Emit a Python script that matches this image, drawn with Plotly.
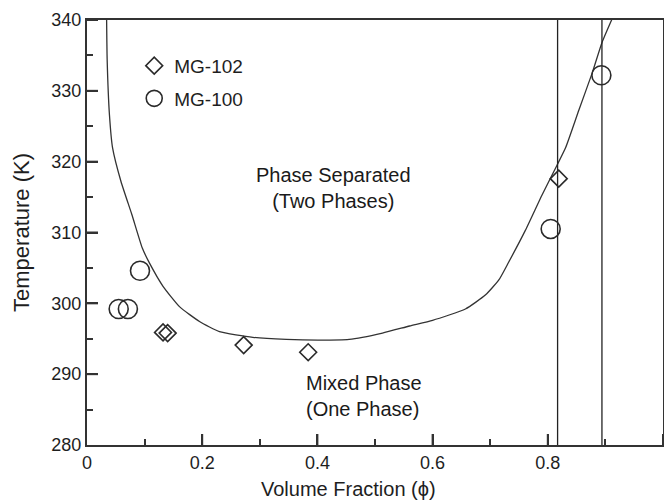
import plotly.graph_objects as go

# ---- data ----
mg102_x = [0.132, 0.140, 0.272, 0.384, 0.819]
mg102_y = [295.9, 295.8, 294.1, 293.1, 317.6]

mg100_x = [0.055, 0.071, 0.092, 0.805, 0.893]
mg100_y = [299.2, 299.2, 304.6, 310.5, 332.2]

curve_x = [0.034, 0.035, 0.039, 0.0445, 0.059, 0.078, 0.096, 0.109, 0.132, 0.161,
           0.196, 0.230, 0.288, 0.346, 0.403, 0.455, 0.513, 0.560, 0.600, 0.657, 0.692,
           0.715, 0.732, 0.761, 0.790, 0.816, 0.831, 0.854, 0.877, 0.894, 0.914]
curve_y = [340.5, 334.4, 326.6, 321.9, 317.2, 312.5, 307.8, 305.6, 302.4, 299.5,
           297.4, 296.0, 295.2, 294.9, 294.8, 294.9, 295.8, 296.8, 297.6, 299.2, 301.2,
           303.3, 305.8, 310.3, 315.3, 319.5, 322.0, 327.3, 332.5, 336.8, 340.6]

vlines = [0.817, 0.894]

x_major_ticks = [0, 0.2, 0.4, 0.6, 0.8, 1.0]
x_tick_labels = ["0", "0.2", "0.4", "0.6", "0.8", "1"]
y_major_ticks = [280, 290, 300, 310, 320, 330, 340]

X_RANGE = [0, 1]
Y_RANGE = [280, 340]
X_MINOR, Y_MINOR = 0.1, 5

FONT = "Liberation Sans, Arial, sans-serif"
INK = "#1e1e1e"
AX = "#333333"

fig = go.Figure()

fig.add_trace(go.Scatter(x=curve_x, y=curve_y, mode="lines",
                         line=dict(color="#333333", width=1.3, shape="spline", smoothing=0.5),
                         showlegend=False, hoverinfo="skip"))

for v in vlines:
    fig.add_trace(go.Scatter(x=[v, v], y=Y_RANGE, mode="lines",
                             line=dict(color="#222222", width=1.3),
                             showlegend=False, hoverinfo="skip"))

fig.add_trace(go.Scatter(x=mg102_x, y=mg102_y, mode="markers", name="MG-102",
                         legendgroup="a",
                         marker=dict(symbol="diamond-open", size=13, color="#2a2a2a",
                                     line=dict(width=1.6, color="#2a2a2a"))))
fig.add_trace(go.Scatter(x=mg100_x, y=mg100_y, mode="markers", name="MG-100",
                         legendgroup="b",
                         marker=dict(symbol="circle-open", size=19, color="#2a2a2a",
                                     line=dict(width=1.6, color="#2a2a2a"))))

fig.update_layout(
    xaxis=dict(range=X_RANGE, tickmode="array", tickvals=x_major_ticks, ticktext=x_tick_labels,
               showline=True, linewidth=2, linecolor=AX, mirror=True,
               ticks="inside", ticklen=11, tickwidth=2, tickcolor=AX,
               showgrid=False, zeroline=False,
               tickfont=dict(family=FONT, size=18, color=INK),
               minor=dict(ticks="inside", ticklen=6, tickwidth=2, tickcolor=AX,
                          tick0=0, dtick=X_MINOR, showgrid=False)),
    yaxis=dict(range=Y_RANGE, tickmode="array", tickvals=y_major_ticks,
               showline=True, linewidth=2, linecolor=AX, mirror=True,
               ticks="inside", ticklen=11, tickwidth=2, tickcolor=AX,
               showgrid=False, zeroline=False,
               tickfont=dict(family=FONT, size=18, color=INK),
               minor=dict(ticks="inside", ticklen=6, tickwidth=2, tickcolor=AX,
                          tick0=280, dtick=Y_MINOR, showgrid=False),
               title=dict(text="Temperature (K)", font=dict(family=FONT, size=22, color=INK),
                          standoff=16)),
)

# long tick marks at the major tick positions, anchored to the axes in pixel length
for v in x_major_ticks[1:]:
    fig.add_shape(type="line", xref="x", yref="paper", x0=v, x1=v,
                  ysizemode="pixel", yanchor=0, y0=0, y1=11,
                  line=dict(color=AX, width=2), layer="above")
for v in y_major_ticks[1:]:
    fig.add_shape(type="line", yref="y", xref="paper", y0=v, y1=v,
                  xsizemode="pixel", xanchor=0, x0=0, x1=11,
                  line=dict(color=AX, width=2), layer="above")

fig.add_annotation(text="Volume Fraction (\u03d5)", xref="paper", yref="paper",
                   x=0.454, y=-0.074, xanchor="center", yanchor="top", showarrow=False,
                   font=dict(family=FONT, size=20, color=INK))
fig.add_annotation(text="Phase Separated<br>(Two Phases)", x=0.428, y=316.3,
                   xanchor="center", yanchor="middle", showarrow=False, align="center",
                   font=dict(family=FONT, size=20, color="#1a1a1a"))
fig.add_annotation(text="Mixed Phase<br>(One Phase)", x=0.376, y=286.9,
                   xanchor="left", yanchor="middle", showarrow=False, align="left",
                   font=dict(family=FONT, size=20, color="#1a1a1a"))

fig.update_layout(
    width=664, height=501,
    margin=dict(l=87, r=1, t=20, b=56, autoexpand=False),
    paper_bgcolor="white", plot_bgcolor="white",
    font=dict(family=FONT, color=INK),
    legend=dict(x=0.082, y=0.937, xanchor="left", yanchor="top",
                bgcolor="rgba(0,0,0,0)", font=dict(family=FONT, size=19, color=INK),
                traceorder="grouped", tracegroupgap=5, itemsizing="trace"),
)

# remove the default page margin so the figure sits at the window's top-left corner
fig.write_html("out.html", config={"displayModeBar": False},
               post_script="document.body.style.margin='0';document.body.style.overflow='hidden';")
